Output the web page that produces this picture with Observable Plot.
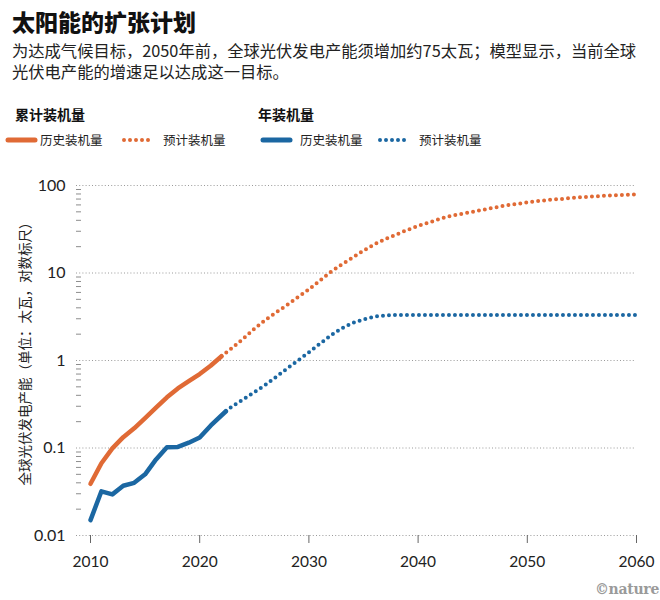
<!DOCTYPE html>
<html>
<head>
<meta charset="utf-8">
<script src="https://cdn.jsdelivr.net/npm/d3@7"></script>
<script src="https://cdn.jsdelivr.net/npm/@observablehq/plot@0.6"></script>
<style>
  html, body { margin: 0; padding: 0; background: #fff; }
  body { width: 660px; height: 600px; position: relative; overflow: hidden;
         font-family: "Noto Sans CJK SC", "Noto Sans", sans-serif; color: #1a1a1a; }
  .abs { position: absolute; white-space: nowrap; line-height: 1; }
  #title { left: 12px; top: 10px; font-size: 23px; font-weight: 900; color: #111; }
  .sub { left: 12px; font-size: 16.3px; color: #222; }
  .lhead { top: 107px; font-size: 14px; font-weight: 700; color: #111; }
  .litem { top: 134px; font-size: 12.5px; color: #222; }
  .sw { position: absolute; top: 134px; }
  #chart { position: absolute; left: 0; top: 160px; }
  #credit { right: 1px; top: 582px; font-family: "DejaVu Serif", serif; font-weight: 700;
            font-size: 14px; color: #9a9a9a; letter-spacing: -0.3px; }
</style>
</head>
<body>
<div id="title" class="abs">太阳能的扩张计划</div>
<div id="sub1" class="abs sub" style="top:42px">为达成气候目标，2050年前，全球光伏发电产能须增加约75太瓦；模型显示，当前全球</div>
<div id="sub2" class="abs sub" style="top:63px">光伏电产能的增速足以达成这一目标。</div>
<div id="legend"></div>
<div id="chart"></div>
<div id="credit" class="abs">©nature</div>
<script>
// ---------------- data ----------------
const colorCum = "#e06a35";
const colorAnn = "#1b67a2";

const legendGroups = ["累计装机量", "年装机量"];
const legendItems = ["历史装机量", "预计装机量"];

const yAxisLabel = "全球光伏发电产能（单位：太瓦，对数标尺）";

// Cumulative installed capacity (TW), historical
const cumHistYears = [2010, 2011, 2012, 2013, 2014, 2015, 2016, 2017, 2018, 2019, 2020, 2021, 2022];
const cumHist      = [0.039, 0.067, 0.099, 0.133, 0.168, 0.22, 0.29, 0.38, 0.48, 0.58, 0.70, 0.87, 1.12];

// Cumulative, projected
const cumProjYears = [2022, 2023, 2024, 2025, 2026, 2027, 2028, 2029, 2030, 2031, 2032, 2033, 2034,
                      2035, 2036, 2037, 2038, 2039, 2040, 2041, 2042, 2043, 2044, 2045, 2046, 2047,
                      2048, 2049, 2050, 2051, 2052, 2053, 2054, 2055, 2056, 2057, 2058, 2059, 2060];
const cumProj      = [1.12, 1.4, 1.78, 2.3, 2.9, 3.55, 4.3, 5.3, 6.5, 8.2, 10.3, 12.5, 15,
                      18, 21.3, 24.5, 27.5, 31, 34.5, 37.8, 41.5, 45, 47.5, 50, 53, 56,
                      59, 61.5, 64, 66.5, 68.5, 70, 71.8, 73.5, 75, 76.3, 77.3, 78.2, 79];

// Annual installations (TW), historical
const annHistYears = [2010, 2011, 2012, 2013, 2014, 2015, 2016, 2017, 2018, 2019, 2020, 2021, 2022.4];
const annHist      = [0.015, 0.032, 0.0295, 0.037, 0.040, 0.050, 0.074, 0.102, 0.103, 0.115, 0.132, 0.18, 0.263];

// Annual, projected
const annProjYears = [2022.4, 2023, 2024, 2025, 2026, 2027, 2028, 2029, 2030, 2031, 2032, 2033, 2034,
                      2035, 2036, 2037, 2038, 2039, 2040, 2041, 2042, 2043, 2044, 2045, 2046, 2047,
                      2048, 2049, 2050, 2051, 2052, 2053, 2054, 2055, 2056, 2057, 2058, 2059, 2060];
const annProj      = [0.263, 0.30, 0.36, 0.435, 0.525, 0.65, 0.81, 1.0, 1.24, 1.55, 1.93, 2.33, 2.68,
                      2.95, 3.17, 3.28, 3.32, 3.32, 3.32, 3.32, 3.32, 3.32, 3.32, 3.32, 3.32, 3.32,
                      3.32, 3.32, 3.32, 3.32, 3.32, 3.32, 3.32, 3.32, 3.32, 3.32, 3.32, 3.32, 3.32];

const yTicks      = [0.01, 0.1, 1, 10, 100];
const yTickLabels = ["0.01", "0.1", "1", "10", "100"];
const yMinorTicks = [0.02, 0.03, 0.04, 0.05, 0.06, 0.07, 0.08, 0.09,
                     0.2, 0.3, 0.4, 0.5, 0.6, 0.7, 0.8, 0.9,
                     2, 3, 4, 5, 6, 7, 8, 9,
                     20, 30, 40, 50, 60, 70, 80, 90];
const xTicks      = [2010, 2020, 2030, 2040, 2050, 2060];
const xTickLabels = ["2010", "2020", "2030", "2040", "2050", "2060"];

// ---------------- tables ----------------
const toRows = (xs, ys) => xs.map((x, i) => ({year: x, value: ys[i]}));
const cumHistRows = toRows(cumHistYears, cumHist);
const cumProjRows = toRows(cumProjYears, cumProj);
const annHistRows = toRows(annHistYears, annHist);
const annProjRows = toRows(annProjYears, annProj);

// ---------------- legend (HTML) ----------------
const legend = document.getElementById("legend");
function addText(txt, cls, left) {
  const d = document.createElement("div");
  d.className = "abs " + cls;
  d.style.left = left + "px";
  d.textContent = txt;
  legend.appendChild(d);
}
function addSwatch(color, dotted, left) {
  const ns = "http://www.w3.org/2000/svg";
  const s = document.createElementNS(ns, "svg");
  s.setAttribute("class", "sw");
  s.setAttribute("width", 34); s.setAttribute("height", 12);
  s.style.left = left + "px";
  const l = document.createElementNS(ns, "line");
  l.setAttribute("y1", 6); l.setAttribute("y2", 6);
  l.setAttribute("stroke", color);
  l.setAttribute("stroke-linecap", "round");
  if (dotted) {
    l.setAttribute("x1", 2); l.setAttribute("x2", 27);
    l.setAttribute("stroke-width", 4);
    l.setAttribute("stroke-dasharray", "0,6");
  } else {
    l.setAttribute("x1", 3); l.setAttribute("x2", 30);
    l.setAttribute("stroke-width", 5);
  }
  s.appendChild(l);
  legend.appendChild(s);
}
addText(legendGroups[0], "lhead", 15);
addText(legendGroups[1], "lhead", 258);
addSwatch(colorCum, false, 5);
addText(legendItems[0], "litem", 40);
addSwatch(colorCum, true, 122);
addText(legendItems[1], "litem", 163);
addSwatch(colorAnn, false, 260);
addText(legendItems[0], "litem", 300);
addSwatch(colorAnn, true, 378);
addText(legendItems[1], "litem", 419);

// ---------------- chart ----------------
const chart = Plot.plot({
  width: 660,
  height: 415,
  marginTop: 25,
  marginBottom: 40,
  marginLeft: 76,
  marginRight: 24,
  x: {domain: [2010, 2060], insetLeft: 14},
  y: {type: "log", domain: [0.01, 100]},
  style: {fontFamily: "Lato, 'Noto Sans', sans-serif", fontSize: "16px", color: "#222", background: "transparent"},
  marks: [
    Plot.ruleY(yTicks, {stroke: "#9a9a9a", strokeWidth: 1, strokeDasharray: "1,2.2"}),
    Plot.ruleY(yMinorTicks, {stroke: "#8c8c8c", strokeWidth: 1, insetRight: 555}),
    Plot.axisY({ticks: yTicks, tickFormat: d => yTickLabels[yTicks.indexOf(d)], tickSize: 0, tickPadding: 11,
                label: null, fontSize: 16}),
    Plot.axisX({ticks: xTicks, tickFormat: d => xTickLabels[xTicks.indexOf(d)], tickSize: 8, tickPadding: 12,
                label: null, stroke: "#666", fontSize: 15.5}),
    Plot.line(cumProjRows, {x: "year", y: "value", stroke: colorCum, strokeWidth: 4,
                            strokeLinecap: "round", strokeDasharray: "0,6"}),
    Plot.line(annProjRows, {x: "year", y: "value", stroke: colorAnn, strokeWidth: 4,
                            strokeLinecap: "round", strokeDasharray: "0,6"}),
    Plot.line(cumHistRows, {x: "year", y: "value", stroke: colorCum, strokeWidth: 4.5,
                            strokeLinecap: "round", strokeLinejoin: "round"}),
    Plot.line(annHistRows, {x: "year", y: "value", stroke: colorAnn, strokeWidth: 4.5,
                            strokeLinecap: "round", strokeLinejoin: "round"}),
    Plot.text([yAxisLabel], {frameAnchor: "left", textAnchor: "middle", lineAnchor: "middle",
                             rotate: -90, dx: -51, dy: -10,
                             fontFamily: "Noto Sans CJK SC", fontSize: 13.5, fill: "#222"})
  ]
});
document.getElementById("chart").appendChild(chart);
</script>
</body>
</html>
